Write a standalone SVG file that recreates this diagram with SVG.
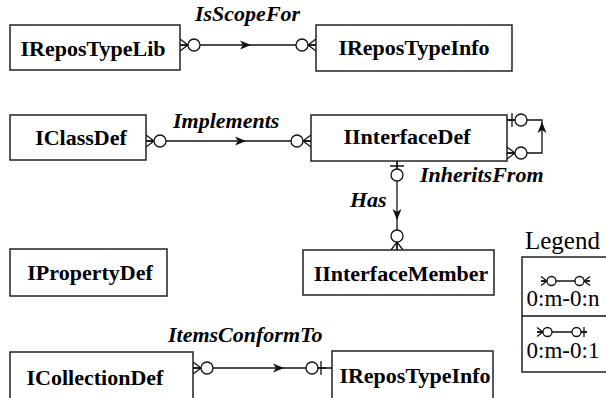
<svg xmlns="http://www.w3.org/2000/svg" width="606" height="398" viewBox="0 0 606 398">
  <style>
    .box { fill: #fff; stroke: #222; stroke-width: 1.5; }
    .name { font-family: "Liberation Serif", "Times New Roman", serif; font-weight: bold; font-size: 22px; fill: #000; text-anchor: middle; }
    .rel { font-family: "Liberation Serif", "Times New Roman", serif; font-weight: bold; font-style: italic; font-size: 22px; fill: #000; }
    .leg { font-family: "Liberation Serif", "Times New Roman", serif; font-size: 23px; fill: #000; }
    .ln { fill: none; stroke: #111; stroke-width: 1.3; }
    .sym { fill: #fff; stroke: #111; stroke-width: 1.3; }
    .arw { fill: #111; stroke: none; }
  </style>
  <defs>
    <!-- end marks drawn with the box edge at the origin, connector running toward +x -->
    <g id="many">
      <path class="ln" d="M0,-6 L8,0 L0,6 M0,0 H8"/>
      <circle class="sym" cx="14" cy="0" r="6"/>
    </g>
    <g id="one">
      <path class="ln" d="M0,0 H8 M5,-7 V7"/>
      <circle class="sym" cx="14" cy="0" r="6"/>
    </g>
    <g id="manySm">
      <path class="ln" d="M0,-4.5 L6,0 L0,4.5 M0,0 H6"/>
      <circle class="sym" cx="10.5" cy="0" r="4.5"/>
    </g>
    <g id="oneSm">
      <path class="ln" d="M0,0 H6 M3,-5 V5"/>
      <circle class="sym" cx="10.5" cy="0" r="4.5"/>
    </g>
    <!-- barbed arrowhead, tip at origin, pointing toward +x -->
    <path id="head" class="arw" d="M0,0 L-11,-4.5 L-8,0 L-11,4.5 Z"/>
  </defs>

  <g id="connectors">
    <!-- IsScopeFor -->
    <line class="ln" x1="180" y1="45" x2="316" y2="45"/>
    <use href="#many" transform="translate(180,45)"/>
    <use href="#many" transform="translate(316,45) rotate(180)"/>
    <use href="#head" transform="translate(251,45)"/>
    <text class="rel" x="195" y="21">IsScopeFor</text>

    <!-- Implements -->
    <line class="ln" x1="146" y1="141" x2="311" y2="141"/>
    <use href="#many" transform="translate(146,141)"/>
    <use href="#many" transform="translate(311,141) rotate(180)"/>
    <use href="#head" transform="translate(246,141)"/>
    <text class="rel" x="173" y="128">Implements</text>

    <!-- InheritsFrom (self loop) -->
    <path class="ln" d="M507,153 H542 V120 H507"/>
    <use href="#many" transform="translate(507,153)"/>
    <use href="#one" transform="translate(507,120)"/>
    <use href="#head" transform="translate(542,122) rotate(-90)"/>
    <text class="rel" x="420" y="182">InheritsFrom</text>

    <!-- Has -->
    <line class="ln" x1="397" y1="161" x2="397" y2="250"/>
    <use href="#one" transform="translate(397,161) rotate(90)"/>
    <use href="#many" transform="translate(397,250) rotate(-90)"/>
    <use href="#head" transform="translate(397,220) rotate(90)"/>
    <text class="rel" x="350" y="207">Has</text>

    <!-- ItemsConformTo -->
    <line class="ln" x1="193" y1="368" x2="332" y2="368"/>
    <use href="#many" transform="translate(193,368)"/>
    <use href="#one" transform="translate(326,368) rotate(180)"/>
    <use href="#head" transform="translate(284,368)"/>
    <text class="rel" x="168" y="342">ItemsConformTo</text>
  </g>

  <g id="IReposTypeLib">
    <rect class="box" x="10" y="25" width="170" height="45"/>
    <text class="name" x="93" y="56">IReposTypeLib</text>
  </g>
  <g id="IReposTypeInfo-top">
    <rect class="box" x="316" y="25" width="196" height="46"/>
    <text class="name" x="414" y="55">IReposTypeInfo</text>
  </g>
  <g id="IClassDef">
    <rect class="box" x="10" y="115" width="136" height="45"/>
    <text class="name" x="81" y="145">IClassDef</text>
  </g>
  <g id="IInterfaceDef">
    <rect class="box" x="311" y="115" width="196" height="46"/>
    <text class="name" x="407" y="144">IInterfaceDef</text>
  </g>
  <g id="IInterfaceMember">
    <rect class="box" x="303" y="250" width="191" height="45"/>
    <text class="name" x="401" y="281">IInterfaceMember</text>
  </g>
  <g id="IPropertyDef">
    <rect class="box" x="10" y="249" width="157" height="47"/>
    <text class="name" x="90" y="280">IPropertyDef</text>
  </g>
  <g id="ICollectionDef">
    <rect class="box" x="10" y="352" width="183" height="52"/>
    <text class="name" x="95" y="385">ICollectionDef</text>
  </g>
  <g id="IReposTypeInfo-bottom">
    <rect class="box" x="332" y="351" width="161" height="53"/>
    <text class="name" x="415" y="383">IReposTypeInfo</text>
  </g>

  <g id="legend">
    <text class="leg" x="525" y="249" style="font-size:25px">Legend</text>
    <rect class="box" x="522" y="257" width="95" height="115"/>
    <line class="ln" x1="522" y1="316" x2="610" y2="316"/>
    <!-- 0:m-0:n -->
    <line class="ln" x1="541" y1="281" x2="590" y2="281"/>
    <use href="#manySm" transform="translate(541,281)"/>
    <use href="#manySm" transform="translate(590,281) rotate(180)"/>
    <text class="leg" x="563" y="306" text-anchor="middle">0:m-0:n</text>
    <!-- 0:m-0:1 -->
    <line class="ln" x1="537" y1="332" x2="587" y2="332"/>
    <use href="#manySm" transform="translate(537,332)"/>
    <use href="#oneSm" transform="translate(587,332) rotate(180)"/>
    <text class="leg" x="563" y="358" text-anchor="middle">0:m-0:1</text>
  </g>
</svg>
